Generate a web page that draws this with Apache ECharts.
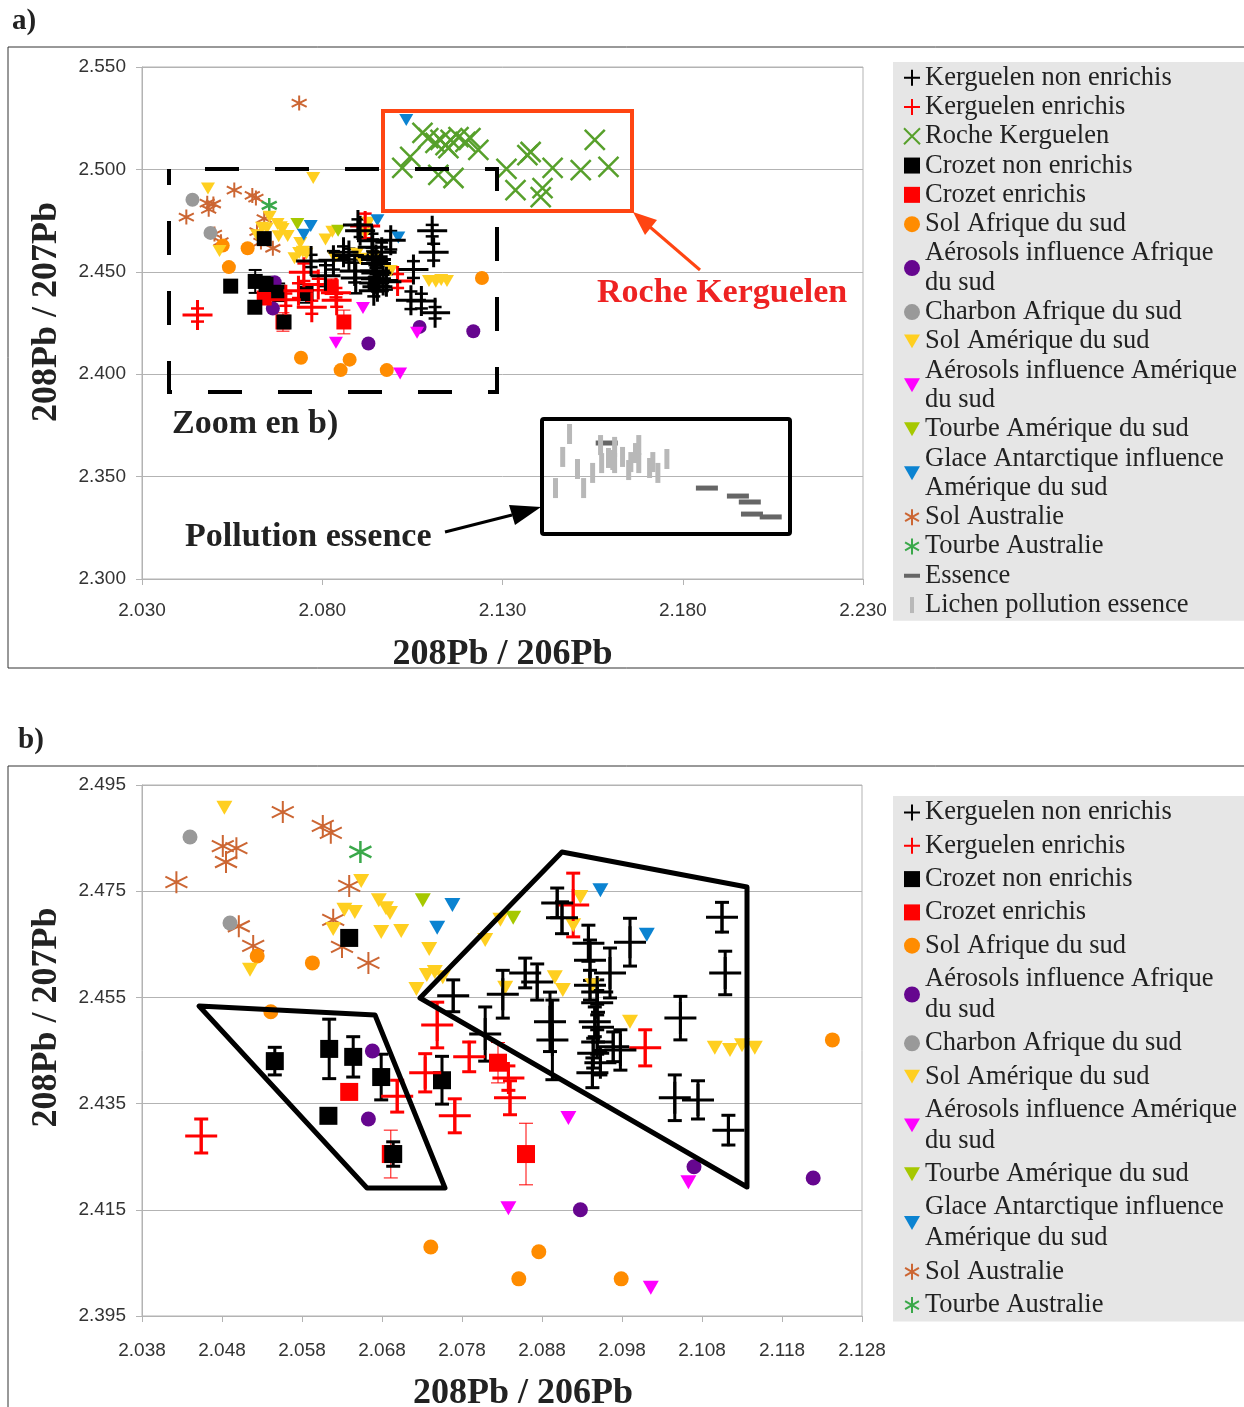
<!DOCTYPE html>
<html>
<head>
<meta charset="utf-8">
<script src="https://cdn.jsdelivr.net/npm/echarts@6/dist/echarts.min.js"></script>
<style>
html, body { margin: 0; padding: 0; background: #fff; }
#chart { width: 1244px; height: 1407px; }
</style>
</head>
<body>
<div id="chart"></div>
<script>
// [208Pb/206Pb, 208Pb/207Pb, erreur]
var kerguelenNonEnrichis = [
    [2.0769, 2.4553, 0.0030], [2.0809, 2.4481, 0.0051], [2.0831, 2.4556, 0.0045],
    [2.0859, 2.4596, 0.0028], [2.0874, 2.4579, 0.0034], [2.0890, 2.4504, 0.0056],
    [2.0893, 2.4470, 0.0075], [2.0899, 2.4728, 0.0028], [2.0905, 2.4700, 0.0030],
    [2.0938, 2.4652, 0.0034], [2.0940, 2.4620, 0.0038], [2.0965, 2.4596, 0.0047],
    [2.0949, 2.4560, 0.0023], [2.0949, 2.4540, 0.0023], [2.0946, 2.4504, 0.0028],
    [2.0950, 2.4494, 0.0028], [2.0949, 2.4466, 0.0023], [2.0944, 2.4445, 0.0028],
    [2.0953, 2.4427, 0.0023], [2.0943, 2.4408, 0.0028], [2.0969, 2.4457, 0.0028],
    [2.0978, 2.4451, 0.0038], [2.0990, 2.4654, 0.0045], [2.1053, 2.4511, 0.0041],
    [2.1105, 2.4701, 0.0028], [2.1109, 2.4596, 0.0041], [2.1046, 2.4361, 0.0043],
    [2.1075, 2.4357, 0.0036], [2.1113, 2.4300, 0.0028], [2.0940, 2.4573, 0.0028]
];
var kerguelenEnrichis = [
    [2.0454, 2.4289, 0.0032], [2.0699, 2.4364, 0.0030], [2.0734, 2.4408, 0.0036],
    [2.0749, 2.4498, 0.0043], [2.0771, 2.4327, 0.0032], [2.0789, 2.4438, 0.0028],
    [2.0840, 2.4361, 0.0032], [2.0838, 2.4398, 0.0023], [2.0919, 2.4724, 0.0060],
    [2.1009, 2.4455, 0.0034]
];
var rocheKerguelen = [
    [2.1022, 2.5007], [2.1044, 2.5061], [2.1078, 2.5178], [2.1094, 2.5153], [2.1114, 2.5129],
    [2.1128, 2.5144], [2.1142, 2.5119], [2.1150, 2.5104], [2.1156, 2.5144], [2.1178, 2.5158],
    [2.1197, 2.5134], [2.1211, 2.5153], [2.1233, 2.5095], [2.1122, 2.4973], [2.1164, 2.4958],
    [2.1311, 2.5002], [2.1369, 2.5070], [2.1378, 2.5085], [2.1336, 2.4899], [2.1411, 2.4909],
    [2.1406, 2.4865], [2.1439, 2.5007], [2.1517, 2.4997], [2.1556, 2.5144], [2.1594, 2.5012]
];
var crozetNonEnrichis = [
    [2.0639, 2.4662, 0], [2.0546, 2.4430, 0.0026], [2.0614, 2.4453, 0.0056],
    [2.0644, 2.4438, 0.0038], [2.0679, 2.4400, 0.0043], [2.0613, 2.4327, 0],
    [2.0694, 2.4255, 0.0023], [2.0755, 2.4394, 0.0045]
];
var crozetEnrichis = [
    [2.0639, 2.4372, 0], [2.0691, 2.4255, 0.0045], [2.0825, 2.4427, 0.0038], [2.0860, 2.4255, 0.0058]
];
var solAfrique = [
    [2.0524, 2.4628], [2.0593, 2.4615], [2.0541, 2.4523], [2.0741, 2.4080],
    [2.0876, 2.4071], [2.0851, 2.4020], [2.0979, 2.4020], [2.1243, 2.4470]
];
var aerosolsAfrique = [[2.0668, 2.4449], [2.0663, 2.4321], [2.0928, 2.4150], [2.1070, 2.4231], [2.1219, 2.4210]];
var charbonAfrique = [[2.0440, 2.4852], [2.0490, 2.4690]];
var solAmerique = [
    [2.0483, 2.4907], [2.0654, 2.4769], [2.0676, 2.4733], [2.0685, 2.4718], [2.0690, 2.4709],
    [2.0633, 2.4715], [2.0646, 2.4711], [2.0619, 2.4679], [2.0679, 2.4673], [2.0704, 2.4675],
    [2.0739, 2.4641], [2.0515, 2.4602], [2.0736, 2.4592], [2.0746, 2.4598], [2.0756, 2.4588],
    [2.0723, 2.4566], [2.0896, 2.4588], [2.0906, 2.4564], [2.0834, 2.4568], [2.0809, 2.4658],
    [2.0828, 2.4696], [2.0928, 2.4739], [2.0919, 2.4686], [2.0943, 2.4573], [2.0990, 2.4504],
    [2.1096, 2.4455], [2.1115, 2.4451], [2.1130, 2.4460], [2.1146, 2.4455], [2.0775, 2.4958]
];
var aerosolsAmerique = [[2.0913, 2.4323], [2.1063, 2.4202], [2.0838, 2.4153], [2.1016, 2.4003]];
var tourbeAmerique = [[2.0731, 2.4733], [2.0844, 2.4700]];
var glaceAntarctique = [[2.0768, 2.4724], [2.0749, 2.4681], [2.0953, 2.4752], [2.1011, 2.4668], [2.1033, 2.5241]];
var solAustralie = [
    [2.0556, 2.4899], [2.0606, 2.4873], [2.0616, 2.4860], [2.0481, 2.4835], [2.0498, 2.4831],
    [2.0485, 2.4805], [2.0423, 2.4767], [2.0639, 2.4760], [2.0619, 2.4696], [2.0501, 2.4684],
    [2.0519, 2.4647], [2.0630, 2.4645], [2.0663, 2.4615], [2.0736, 2.5324]
];
var tourbeAustralie = [[2.0653, 2.4824]];
var essence = [[2.1589, 2.3664], [2.1867, 2.3444], [2.1953, 2.3405], [2.1986, 2.3376], [2.1992, 2.3317], [2.2044, 2.3303]];
var lichen = [
    [2.1447, 2.3444], [2.1467, 2.3596], [2.1486, 2.3708], [2.1508, 2.3537], [2.1525, 2.3444],
    [2.1550, 2.3518], [2.1572, 2.3654], [2.1575, 2.3566], [2.1594, 2.3591], [2.1606, 2.3581],
    [2.1611, 2.3645], [2.1611, 2.3566], [2.1633, 2.3596], [2.1650, 2.3532], [2.1656, 2.3571],
    [2.1669, 2.3615], [2.1678, 2.3654], [2.1678, 2.3566], [2.1708, 2.3542], [2.1717, 2.3571],
    [2.1731, 2.3518], [2.1756, 2.3586]
];

// axes [min, max, pas]
var xAxisA = [2.030, 2.230, 0.05];
var yAxisA = [2.300, 2.550, 0.05];
var xAxisB = [2.038, 2.128, 0.01];
var yAxisB = [2.395, 2.495, 0.02];

var PLUS = 'path://M0,5 L10,5 M5,0 L5,10';
var CROSS = 'path://M0,0 L10,10 M0,10 L10,0';
var STAR = 'path://M5,0 L5,10 M0.67,2.5 L9.33,7.5 M0.67,7.5 L9.33,2.5';
var TRI = 'path://M0,0 L10,0 L5,8.7 Z';

// ordre de dessin (le dernier au dessus)
var layers = [
    {name: 'Sol Australie', data: solAustralie, symbol: STAR, a: 15, b: 22, color: '#cc6633', stroke: 2},
    {name: 'Tourbe Australie', data: tourbeAustralie, symbol: STAR, a: 15, b: 22, color: '#3aa84a', stroke: 2.5},
    {name: 'Charbon Afrique du sud', data: charbonAfrique, symbol: 'circle', a: 14, b: 15, color: '#999999'},
    {name: 'Sol Afrique du sud', data: solAfrique, symbol: 'circle', a: 14, b: 15, color: '#ff8c00'},
    {name: 'Aérosols influence Afrique du sud', data: aerosolsAfrique, symbol: 'circle', a: 14, b: 15, color: '#66068f'},
    {name: 'Sol Amérique du sud', data: solAmerique, symbol: TRI, a: [14, 12], b: [16, 14], color: '#ffcf20'},
    {name: 'Tourbe Amérique du sud', data: tourbeAmerique, symbol: TRI, a: [14, 12], b: [16, 14], color: '#a6c800'},
    {name: 'Glace Antarctique influence Amérique du sud', data: glaceAntarctique, symbol: TRI, a: [14, 12], b: [16, 14], color: '#0b83d1'},
    {name: 'Aérosols influence Amérique du sud', data: aerosolsAmerique, symbol: TRI, a: [14, 12], b: [16, 14], color: '#ff00ff'},
    {name: 'Roche Kerguelen', data: rocheKerguelen, symbol: CROSS, a: 20, b: 20, color: '#57a02b', stroke: 2.5, onlyA: true},
    {name: 'Essence', data: essence, symbol: 'rect', a: [22, 5], b: [22, 5], color: '#666666', onlyA: true},
    {name: 'Lichen pollution essence', data: lichen, symbol: 'rect', a: [5, 20], b: [5, 20], color: '#b8b8b8', onlyA: true},
    {name: 'Crozet enrichis', data: crozetEnrichis, symbol: 'rect', a: 15, b: 18, color: '#ff0000', err: [1, 1]},
    {name: 'Crozet non enrichis', data: crozetNonEnrichis, symbol: 'rect', a: 15, b: 18, color: '#000000', err: [2, 3]},
    {name: 'Kerguelen enrichis', data: kerguelenEnrichis, symbol: PLUS, a: 30, b: 32, color: '#ff0000', stroke: 3, err: [2.5, 3]},
    {name: 'Kerguelen non enrichis', data: kerguelenNonEnrichis, symbol: PLUS, a: 30, b: 32, color: '#000000', stroke: 3, err: [2.5, 3]}
];

var legendA = [
    'Kerguelen non enrichis', 'Kerguelen enrichis', 'Roche Kerguelen', 'Crozet non enrichis', 'Crozet enrichis',
    'Sol Afrique du sud', 'Aérosols influence Afrique du sud', 'Charbon Afrique du sud', 'Sol Amérique du sud',
    'Aérosols influence Amérique du sud', 'Tourbe Amérique du sud', 'Glace Antarctique influence Amérique du sud',
    'Sol Australie', 'Tourbe Australie', 'Essence', 'Lichen pollution essence'
];
var legendB = legendA.filter(function (n) {
    return n != 'Roche Kerguelen' && n != 'Essence' && n != 'Lichen pollution essence';
});
var wrapped = {
    'Aérosols influence Afrique du sud': 'Aérosols influence Afrique\ndu sud',
    'Aérosols influence Amérique du sud': 'Aérosols influence Amérique\ndu sud',
    'Glace Antarctique influence Amérique du sud': 'Glace Antarctique influence\nAmérique du sud'
};

function errorBars(data, idx, color, lw, cap) {
    return {
        type: 'custom',
        name: 'barres',
        xAxisIndex: idx,
        yAxisIndex: idx,
        silent: true,
        data: data.filter(function (d) { return d[2] > 0; }),
        encode: {x: 0, y: 1},
        renderItem: function (params, api) {
            var x = api.value(0), y = api.value(1), e = api.value(2);
            var hi = api.coord([x, y + e]);
            var lo = api.coord([x, y - e]);
            var st = {stroke: color, lineWidth: lw};
            return {
                type: 'group',
                children: [
                    {type: 'line', shape: {x1: hi[0], y1: hi[1], x2: lo[0], y2: lo[1]}, style: st},
                    {type: 'line', shape: {x1: hi[0] - cap / 2, y1: hi[1], x2: hi[0] + cap / 2, y2: hi[1]}, style: st},
                    {type: 'line', shape: {x1: lo[0] - cap / 2, y1: lo[1], x2: lo[0] + cap / 2, y2: lo[1]}, style: st}
                ]
            };
        }
    };
}

var series = [];
[0, 1].forEach(function (idx) {
    layers.forEach(function (l) {
        if (l.onlyA && idx == 1) return;
        if (l.err) {
            series.push(errorBars(l.data, idx, l.color, l.err[idx], idx == 0 ? 13 : 14));
        }
        series.push({
            type: 'scatter',
            name: l.name,
            xAxisIndex: idx,
            yAxisIndex: idx,
            data: l.data.map(function (d) { return [d[0], d[1]]; }),
            symbol: l.symbol,
            symbolSize: idx == 0 ? l.a : l.b,
            itemStyle: l.stroke
                ? {color: l.color, borderColor: l.color, borderWidth: l.stroke, opacity: 1}
                : {color: l.color, borderWidth: 0, opacity: 1},
            emphasis: {disabled: true}
        });
    });
});

function xAxis(idx, r, name, gap, pad, margin) {
    return {
        type: 'value', gridIndex: idx, min: r[0], max: r[1], interval: r[2],
        name: name, nameLocation: 'middle', nameGap: gap,
        nameTextStyle: {fontFamily: 'Liberation Serif', fontWeight: 'bold', fontSize: 36, color: '#222', padding: pad},
        axisLine: {show: true, lineStyle: {color: '#b3b3b3'}},
        axisTick: {show: true, length: 6, lineStyle: {color: '#b3b3b3'}},
        axisLabel: {
            margin: margin, fontFamily: 'Liberation Sans', fontSize: 19, color: '#333',
            showMinLabel: true, showMaxLabel: true,
            formatter: function (v) { return v.toFixed(3); }
        },
        splitLine: {show: false}
    };
}
function yAxis(idx, r, name, gap, pad) {
    return {
        type: 'value', gridIndex: idx, min: r[0], max: r[1], interval: r[2],
        name: name, nameLocation: 'middle', nameGap: gap,
        nameTextStyle: {fontFamily: 'Liberation Serif', fontWeight: 'bold', fontSize: 36, color: '#222', padding: pad},
        axisLine: {show: true, lineStyle: {color: '#b3b3b3'}},
        axisTick: {show: true, length: 6, lineStyle: {color: '#b3b3b3'}},
        axisLabel: {
            margin: 16, fontFamily: 'Liberation Sans', fontSize: 19, color: '#333',
            showMinLabel: true, showMaxLabel: true,
            formatter: function (v) { return v.toFixed(3); }
        },
        splitLine: {show: true, lineStyle: {color: '#b3b3b3'}}
    };
}

function legendBox(names, top, lineH, gap) {
    return {
        data: names.map(function (n) {
            if (n == 'Essence') return {name: n, icon: 'path://M0,0 L16,0 L16,4 L0,4 Z'};
            if (n == 'Lichen pollution essence') return {name: n, icon: 'path://M0,0 L4,0 L4,16 L0,16 Z'};
            return {name: n};
        }),
        orient: 'vertical',
        left: 893,
        top: top,
        padding: [1, 20, 1, 10],
        itemWidth: 16,
        itemHeight: 16,
        itemGap: gap,
        selectedMode: false,
        backgroundColor: '#e6e6e6',
        textStyle: {fontFamily: 'Liberation Serif', fontSize: 26.5, color: '#222', lineHeight: lineH},
        formatter: function (n) { return wrapped[n] || n; }
    };
}

var txt = function (x, y, text, size, color) {
    return {
        type: 'text', x: x, y: y, z: 100,
        style: {text: text, font: 'bold ' + size + 'px "Liberation Serif"', fill: color || '#222', verticalAlign: 'middle'}
    };
};

var graphics = [
    // cadres
    {type: 'polyline', shape: {points: [[1260, 47], [8, 47], [8, 668], [1260, 668]]}, style: {stroke: '#333', lineWidth: 1, fill: null}},
    {type: 'polyline', shape: {points: [[1260, 766], [8, 766], [8, 1420]]}, style: {stroke: '#333', lineWidth: 1, fill: null}},
    txt(12, 22, 'a)', 29),
    txt(18, 741, 'b)', 29),
    // annotations a)
    {type: 'rect', z: 100, shape: {x: 383, y: 111, width: 249, height: 100}, style: {stroke: '#ff4512', lineWidth: 4, fill: null}},
    {type: 'line', z: 100, shape: {x1: 700, y1: 270, x2: 650, y2: 227}, style: {stroke: '#ff4512', lineWidth: 3}},
    {type: 'polygon', z: 100, shape: {points: [[633, 212], [657, 220], [645, 235]]}, style: {fill: '#ff4512'}},
    txt(597, 293, 'Roche Kerguelen', 34, '#ee2222'),
    {type: 'rect', z: 100, shape: {x: 169, y: 169, width: 328, height: 223}, style: {stroke: '#000', lineWidth: 4, fill: null, lineDash: [34, 36], lineDashOffset: 34}},
    txt(172, 424, 'Zoom en b)', 34),
    {type: 'rect', z: 100, shape: {x: 542, y: 419, width: 248, height: 115, r: 2}, style: {stroke: '#000', lineWidth: 4, fill: null}},
    txt(185, 537, 'Pollution essence', 34),
    {type: 'line', z: 100, shape: {x1: 445, y1: 532, x2: 512, y2: 515}, style: {stroke: '#000', lineWidth: 3}},
    {type: 'polygon', z: 100, shape: {points: [[541, 507], [509, 505], [515, 525]]}, style: {fill: '#000'}},
    // annotations b)
    {type: 'polygon', z: 100, shape: {points: [[199, 1006], [375, 1015], [445, 1188], [367, 1188]]}, style: {stroke: '#000', lineWidth: 5, fill: null, lineJoin: 'round'}},
    {type: 'polygon', z: 100, shape: {points: [[420, 998], [562, 852], [747, 887], [747, 1187]]}, style: {stroke: '#000', lineWidth: 5, fill: null, lineJoin: 'round'}}
];

var chart = echarts.init(document.getElementById('chart'), null, {renderer: 'canvas'});
chart.setOption({
    animation: false,
    backgroundColor: '#fff',
    grid: [
        {left: 142, top: 67, width: 721, height: 512, show: true, borderColor: '#b3b3b3', borderWidth: 1, containLabel: false, outerBoundsMode: 'none'},
        {left: 142, top: 785, width: 720, height: 531, show: true, borderColor: '#b3b3b3', borderWidth: 1, containLabel: false, outerBoundsMode: 'none'}
    ],
    xAxis: [
        xAxis(0, xAxisA, '208Pb / 206Pb', 58, [0, 0, 0, 0], 22),
        xAxis(1, xAxisB, '208Pb / 206Pb', 60, [0, 0, 0, 42], 25)
    ],
    yAxis: [
        yAxis(0, yAxisA, '208Pb / 207Pb', 77, [0, 0, 0, 22]),
        yAxis(1, yAxisB, '208Pb / 207Pb', 77, [0, 0, 0, 66])
    ],
    legend: [
        legendBox(legendA, 62, 29.3, 0),
        legendBox(legendB, 796, 31, 2.3)
    ],
    series: series,
    graphic: graphics
});
</script>
</body>
</html>
